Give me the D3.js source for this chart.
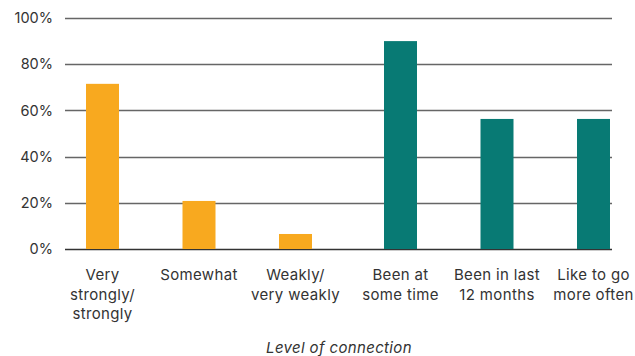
<!DOCTYPE html>
<html>
<head>
<meta charset="utf-8">
<script src="https://cdn.jsdelivr.net/npm/d3@7"></script>
<style>
  html, body { margin: 0; padding: 0; background: #fff; }
  svg { display: block; font-family: "Inter", "Roboto", sans-serif; }
</style>
</head>
<body>
<svg id="chart" width="635" height="356"></svg>
<script>
// Share of respondents by level of connection
const categories = [
  "Very strongly/ strongly",
  "Somewhat",
  "Weakly/ very weakly",
  "Been at some time",
  "Been in last 12 months",
  "Like to go more often"
];
const categoryLines = [
  ["Very", "strongly/", "strongly"],
  ["Somewhat"],
  ["Weakly/", "very weakly"],
  ["Been at", "some time"],
  ["Been in last", "12 months"],
  ["Like to go", "more often"]
];
const values = [71.5, 20.8, 6.5, 90, 56.3, 56.3];
const groups = ["connection", "connection", "connection", "visit", "visit", "visit"];
const yTicks = [0, 20, 40, 60, 80, 100];
const xTitle = "Level of connection";

const colors = { connection: "#F8A91F", visit: "#087A74" };

const svg = d3.select("#chart");
const gridLeft = 65, gridRight = 612;
const plotTop = 18, plotBottom = 249;

const y = d3.scaleLinear().domain([0, 100]).range([plotBottom, plotTop]);

// Bands for the six bars; the second group is nudged right to leave a gap
const step = 96.5, groupGap = 8.5;
const x = d3.scaleBand()
  .domain(categories)
  .range([54.25, 54.25 + step * categories.length])
  .paddingInner(0.658)
  .paddingOuter(0.329);
const xPos = (c, i) => x(c) + (groups[i] === "visit" ? groupGap : 0);

// Gridlines
svg.append("g")
  .selectAll("line")
  .data(yTicks)
  .join("line")
  .attr("x1", gridLeft)
  .attr("x2", gridRight)
  .attr("y1", d => Math.round(y(d)) + 0.5)
  .attr("y2", d => Math.round(y(d)) + 0.5)
  .attr("stroke", d => d === 0 ? "#333" : "#666")
  .attr("stroke-width", 1.4);

// Y axis labels
const yAxis = d3.axisLeft(y).tickValues(yTicks).tickFormat(d => d + "%").tickSize(0).tickPadding(0);
svg.append("g")
  .attr("transform", `translate(${gridLeft - 12},0)`)
  .call(yAxis)
  .call(g => g.select(".domain").remove())
  .call(g => g.selectAll("text")
    .attr("font-size", 14.5)
    .attr("fill", "#333")
    .attr("font-family", "Inter, Roboto, sans-serif"));

// Bars
svg.append("g")
  .selectAll("rect")
  .data(categories)
  .join("rect")
  .attr("x", (c, i) => xPos(c, i))
  .attr("width", x.bandwidth())
  .attr("y", (c, i) => y(values[i]))
  .attr("height", (c, i) => y(0) - y(values[i]))
  .attr("fill", (c, i) => colors[groups[i]]);

// Category labels
const labels = svg.append("g")
  .attr("font-size", 15)
  .attr("letter-spacing", 0.35)
  .attr("fill", "#333")
  .attr("text-anchor", "middle");
categories.forEach((c, i) => {
  const cx = xPos(c, i) + x.bandwidth() / 2;
  const t = labels.append("text")
    .attr("x", cx)
    .attr("y", 280);
  categoryLines[i].forEach((line, j) => {
    t.append("tspan")
      .attr("x", cx)
      .attr("dy", j === 0 ? 0 : 19.5)
      .text(line);
  });
});

// Axis title
svg.append("text")
  .attr("x", (gridLeft + gridRight) / 2 + 0.5)
  .attr("y", 353)
  .attr("text-anchor", "middle")
  .attr("font-size", 15)
  .attr("letter-spacing", 0.35)
  .attr("font-style", "italic")
  .attr("fill", "#333")
  .text(xTitle);
</script>
</body>
</html>
